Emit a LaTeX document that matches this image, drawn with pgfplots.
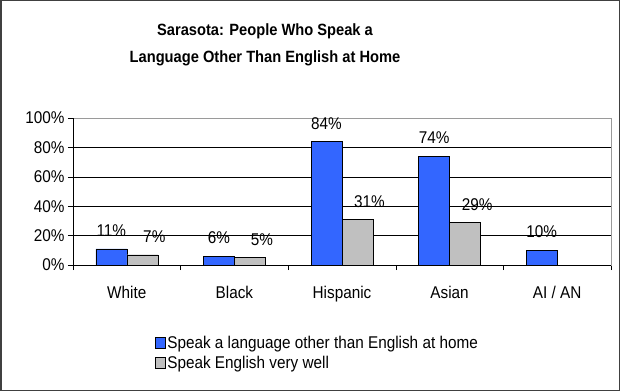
\documentclass[border=0pt]{standalone}
\usepackage{pgfplots}
\pgfplotsset{compat=1.18}
\usepackage{fontspec}
\setmainfont{Liberation Sans}[FakeStretch=0.9]
\definecolor{barblue}{RGB}{51,102,255}
\definecolor{bargray}{RGB}{192,192,192}
\definecolor{frame}{RGB}{64,64,64}
\begin{document}
\begin{tikzpicture}[x=1bp,y=1bp]
\useasboundingbox (0,0) rectangle (620,391);
\draw[frame, line width=1.5bp] (0.75,0.75) rectangle (619.25,390.25);
\node[align=center, font=\fontsize{16.3bp}{27bp}\selectfont\bfseries] at (265,346.5)
  {Sarasota: People Who Speak a\\Language Other Than English at Home};
\begin{axis}[
  at={(73bp,126bp)}, anchor=south west,
  scale only axis, width=538bp, height=147bp,
  ybar=0pt, bar width=31bp,
  xmin=-0.5, xmax=4.5, ymin=0, ymax=100,
  xtick={0,1,2,3,4},
  xticklabels={White,Black,Hispanic,Asian,AI / AN},
  minor xtick={-0.5,0.5,1.5,2.5,3.5,4.5},
  xtick style={draw=none},
  minor x tick style={draw=black, thin},
  minor tick length=5bp,
  ytick={0,20,40,60,80,100},
  yticklabel={\pgfmathprintnumber{\tick}\%},
  ytick style={black, thin},
  major tick length=5bp,
  tick align=outside,
  ymajorgrids, grid style={black, thin},
  axis line style={bargray!80!black, thin},
  /pgf/number format/assume math mode=true,
  tick label style={font=\fontsize{17bp}{20bp}\selectfont},
  xticklabel style={yshift=-13bp},
  tick pos=left,
  nodes near coords={\pgfmathprintnumber{\pgfplotspointmeta}\%},
  every node near coord/.append style={font=\fontsize{17bp}{20bp}\selectfont, inner sep=0pt, anchor=south, yshift=12bp},
  legend style={at={(0.152,-0.47)}, anchor=north west, draw=none, fill=none,
    font=\fontsize{17bp}{20bp}\selectfont, row sep=2bp, inner sep=0pt,
    /tikz/every even column/.append style={column sep=0pt}},
  legend cell align=left,
  legend image code/.code={\draw[#1, draw=black] (0bp,-5bp) rectangle (10bp,6bp);},
]
\addplot[fill=barblue, draw=black] coordinates {(0,11) (1,6) (2,84) (3,74) (4,10)};
\addplot[fill=bargray, draw=black, every node near coord/.append style={xshift=12bp}]
  coordinates {(0,7) (1,5) (2,31) (3,29)};
\legend{Speak a language other than English at home, Speak English very well}
\draw[black, thin] (rel axis cs:0,0) -- (rel axis cs:1,0);
\draw[black, thin] (rel axis cs:0,0) -- (rel axis cs:0,1);
\end{axis}
\end{tikzpicture}
\end{document}
